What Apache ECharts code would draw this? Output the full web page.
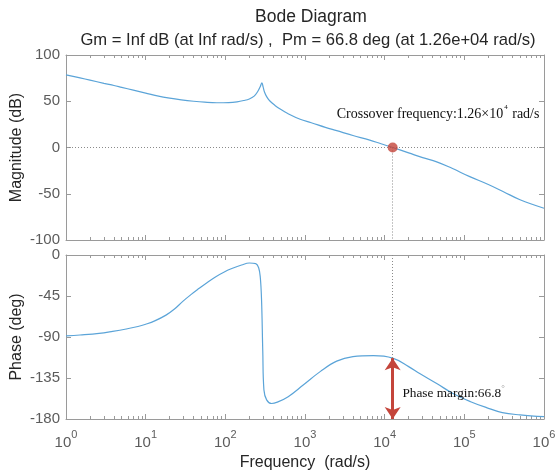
<!DOCTYPE html>
<html>
<head>
<meta charset="utf-8">
<script src="https://cdn.jsdelivr.net/npm/echarts@6/dist/echarts.min.js"></script>
<style>html,body{margin:0;padding:0;background:#fff}#c{width:557px;height:474px}</style>
</head>
<body>
<div id="c"></div>
<script>
// ---- data ----
const magFreq = [1, 1.5, 2, 3, 4, 5, 7, 10, 14, 20, 28, 40, 55, 78, 110, 140, 170, 200, 230, 255, 275, 288, 298, 310, 330, 360, 420, 500, 600, 870, 1200, 1800, 2500, 4000, 6500, 9000, 12600, 20000, 30000, 45000, 70000, 117000, 200000, 310000, 500000, 1000000];
const magDb   = [78.5, 75.2, 72.8, 69.3, 67, 65, 62, 58.8, 55.8, 53.3, 51.5, 50, 49, 48.4, 48.6, 49.4, 50.8, 52.5, 55.5, 60.5, 66, 70, 65.5, 60, 55, 50.5, 45.5, 41, 37, 30.5, 26.8, 21.8, 18.2, 13, 8, 4, 0, -5.8, -11, -15.5, -22.5, -31.5, -40, -47.8, -56.5, -65.7];
const phFreq  = [1, 1.5, 2.6, 3.85, 5.7, 8, 10, 13, 18, 23, 29, 37, 47, 60, 76, 97, 123, 160, 200, 241, 262, 275, 285, 295, 305, 330, 380, 450, 615, 950, 1550, 2500, 4000, 7200, 12600, 20000, 27500, 45000, 72000, 120000, 190000, 300000, 500000, 1000000];
const phDeg   = [-88.8, -87.8, -86, -83.8, -81.2, -78.5, -76, -72.3, -66, -59.3, -51.2, -43.5, -36.6, -29.8, -23.8, -18.6, -14.6, -11, -8.8, -9.5, -14, -25, -50, -105, -148, -159, -163, -161.5, -155.5, -142.7, -128, -116.5, -111.6, -110.5, -113.2, -122.5, -130, -141, -152, -161, -167.5, -173, -175.5, -177.5];
const crossFreq = 12600;       // rad/s
const phaseMargin = 66.8;      // deg
const magTicks = [-100, -50, 0, 50, 100];
const phTicks = [-180, -135, -90, -45, 0];
const titleText = 'Bode Diagram';
const subTitleText = 'Gm = Inf dB (at Inf rad/s) ,  Pm = 66.8 deg (at 1.26e+04 rad/s)';

const magData = magFreq.map((f, i) => [f, magDb[i]]);
const phData = phFreq.map((f, i) => [f, phDeg[i]]);
const phAtCross = -180 + phaseMargin;

const frameColor = '#9a9a9a';
const tickLabelColor = '#5c5c5c';
const curveColor = '#5ba4d8';
const red = '#c4453b';
const sans = 'Liberation Sans, Arial';
const serif = 'Liberation Serif, Times New Roman';

function xAxisDef(grid, pos, labels) {
  return {
    type: 'log', logBase: 10, min: 1, max: 1e6, gridIndex: grid, position: pos,
    axisLine: { show: true, onZero: false, lineStyle: { color: frameColor, width: 1 } },
    axisTick: { show: true, inside: true, length: 5, lineStyle: { color: frameColor } },
    minorTick: { show: true, splitNumber: 9, length: 3, lineStyle: { color: frameColor } },
    splitLine: { show: false },
    axisLabel: labels ? {
      show: true, margin: 10,
      formatter: v => '{b|10}{s|' + Math.round(Math.log10(v)) + '}',
      rich: {
        b: { fontSize: 15, color: tickLabelColor, fontFamily: sans, verticalAlign: 'bottom', lineHeight: 21 },
        s: { fontSize: 11, color: tickLabelColor, fontFamily: sans, verticalAlign: 'top', lineHeight: 11 }
      }
    } : { show: false },
    name: labels ? 'Frequency  (rad/s)' : '',
    nameLocation: 'middle', nameGap: 36,
    nameTextStyle: { fontSize: 16, color: '#262626', fontFamily: sans }
  };
}
function yAxisDef(grid, pos, mn, mx, iv, labels, name) {
  return {
    type: 'value', min: mn, max: mx, interval: iv, gridIndex: grid, position: pos,
    axisLine: { show: true, onZero: false, lineStyle: { color: frameColor, width: 1 } },
    axisTick: { show: true, inside: true, length: 5, lineStyle: { color: frameColor } },
    splitLine: { show: false },
    axisLabel: { show: labels, margin: 6, fontSize: 15, color: tickLabelColor, fontFamily: sans },
    name: labels ? name : '', nameLocation: 'middle', nameGap: 41, nameMoveOverlap: false,
    nameTextStyle: { fontSize: 16, color: '#262626', fontFamily: sans }
  };
}

const chart = echarts.init(document.getElementById('c'), null, { renderer: 'canvas' });
chart.setOption({
  animation: false,
  backgroundColor: '#fff',
  title: [
    { text: titleText, left: 306, textAlign: 'center', top: 3, textStyle: { fontSize: 17.5, fontWeight: 'normal', color: '#262626', fontFamily: sans } },
    { text: subTitleText, left: 303, textAlign: 'center', top: 27, textStyle: { fontSize: 16.6, fontWeight: 'normal', color: '#262626', fontFamily: sans } }
  ],
  grid: [
    { left: 66, top: 55, width: 478, height: 185, containLabel: false, outerBoundsMode: 'none' },
    { left: 66, top: 255, width: 478, height: 164, containLabel: false, outerBoundsMode: 'none' }
  ],
  xAxis: [
    xAxisDef(0, 'bottom', false),
    xAxisDef(0, 'top', false),
    xAxisDef(1, 'bottom', true),
    xAxisDef(1, 'top', false)
  ],
  yAxis: [
    yAxisDef(0, 'left', magTicks[0], magTicks[magTicks.length - 1], 50, true, 'Magnitude (dB)'),
    yAxisDef(0, 'right', magTicks[0], magTicks[magTicks.length - 1], 50, false, ''),
    yAxisDef(1, 'left', phTicks[0], phTicks[phTicks.length - 1], 45, true, 'Phase (deg)'),
    yAxisDef(1, 'right', phTicks[0], phTicks[phTicks.length - 1], 45, false, '')
  ],
  series: [
    {
      type: 'line', xAxisIndex: 0, yAxisIndex: 0, data: magData, showSymbol: false,
      smooth: 0.4,
      lineStyle: { color: curveColor, width: 1.2 }, z: 3,
      markLine: {
        silent: true, symbol: ['none', 'none'], label: { show: false },
        lineStyle: { color: '#8a8a8a', type: [1, 2], width: 1 },
        data: [
          [{ coord: [1, 0] }, { coord: [1e6, 0] }],
          [{ coord: [crossFreq, 0] }, { coord: [crossFreq, magTicks[0]] }]
        ]
      },
      markPoint: {
        silent: true, symbol: 'circle', symbolSize: 0,
        data: [{
          coord: [2500, 37.6],
          label: {
            show: true, position: 'right', distance: 0,
            formatter: '{t|Crossover frequency:1.26×10}{s|4}{t| rad/s}',
            rich: {
              t: { fontSize: 14, color: '#111', fontFamily: serif, verticalAlign: 'bottom', lineHeight: 18 },
              s: { fontSize: 7, color: '#111', fontFamily: serif, verticalAlign: 'top', lineHeight: 9, padding: [0, 1, 0, 1] }
            }
          }
        }]
      }
    },
    {
      type: 'scatter', xAxisIndex: 0, yAxisIndex: 0, data: [[crossFreq, 0]],
      symbolSize: 10, itemStyle: { color: red }, z: 5
    },
    {
      type: 'line', xAxisIndex: 2, yAxisIndex: 2, data: phData, showSymbol: false,
      smooth: 0.4,
      lineStyle: { color: curveColor, width: 1.2 }, z: 3,
      markLine: {
        silent: true, label: { show: false },
        data: [
          [{ coord: [crossFreq, 0], symbol: 'none', lineStyle: { color: '#8a8a8a', type: [1, 2], width: 1 } },
           { coord: [crossFreq, phAtCross], symbol: 'none' }],
          [{ coord: [crossFreq, phAtCross], symbol: 'arrow', symbolSize: [12, 12], lineStyle: { color: red, type: 'solid', width: 3 } },
           { coord: [crossFreq, phTicks[0]], symbol: 'arrow', symbolSize: [12, 12] }]
        ]
      },
      markPoint: {
        silent: true, symbol: 'circle', symbolSize: 0,
        data: [{
          coord: [16700, -150],
          label: {
            show: true, position: 'right', distance: 0,
            formatter: '{t|Phase margin:66.8}{s|°}',
            rich: {
              t: { fontSize: 13.3, color: '#111', fontFamily: serif, verticalAlign: 'bottom', lineHeight: 16 },
              s: { fontSize: 9, color: '#9a9a9a', fontFamily: serif, verticalAlign: 'top', lineHeight: 10 }
            }
          }
        }]
      }
    }
  ]
});
</script>
</body>
</html>
